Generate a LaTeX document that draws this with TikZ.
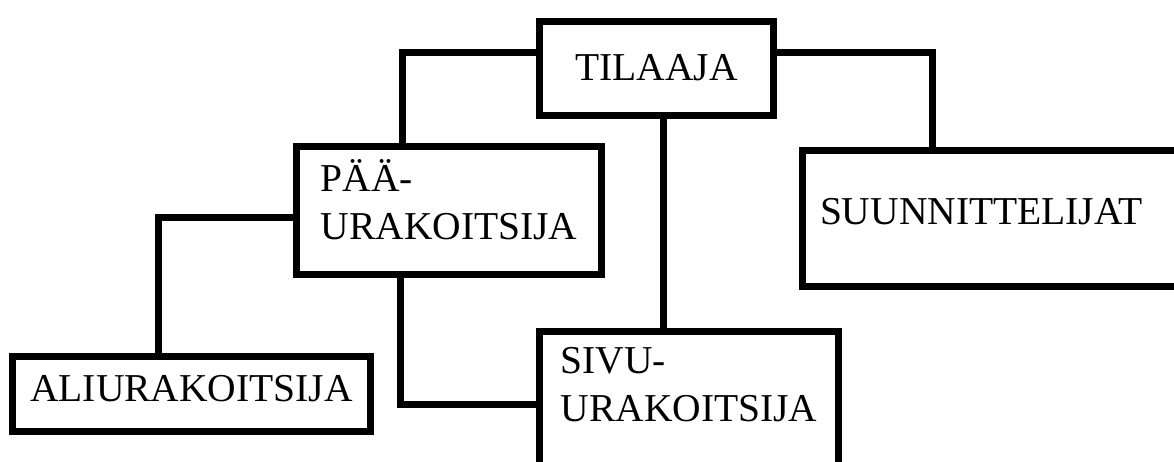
\documentclass[tikz,border=0pt]{standalone}
\usepackage{fontspec}
\setmainfont{Liberation Serif}
\usetikzlibrary{positioning, calc}

\begin{document}
\begin{tikzpicture}[
    x=1pt, y=1pt,
    every node/.style={font=\fontsize{39.5}{48}\selectfont},
    box/.style={draw, rectangle, line width=7pt, inner sep=0pt, outer sep=0pt, text height=26pt},
    conn/.style={line width=7pt}
]
    \useasboundingbox (0,0) rectangle (1174,462);
    \clip (0,0) rectangle (1174,462);

    \node[box, minimum width=234pt, minimum height=94pt, text depth=1pt] (tilaaja) at (656.5,393.5) {TILAAJA};
    \node[box, minimum width=305pt, minimum height=128pt, align=left, text height=60pt, text depth=1pt] (paa) at (449,251.5) {PÄÄ-\\URAKOITSIJA};
    \node[box, minimum width=382.5pt, minimum height=136pt, inner xsep=17.5pt, text width=347.5pt, align=left, text depth=13pt] (suun) at (993.75,243.5) {SUUNNITTELIJAT};
    \node[box, minimum width=358pt, minimum height=75pt, text depth=10pt] (aliur) at (191.5,68) {ALIURAKOITSIJA};
    \node[box, anchor=north, minimum width=299pt, minimum height=170pt, align=left, text height=60pt, text depth=49pt] (sivu) at (689,130.5) {SIVU-\\URAKOITSIJA};

    % tilaaja down to the three parties
    \draw[conn] (tilaaja.west |- 0,409) -| (paa.north -| 402,0);
    \draw[conn] (tilaaja.east |- 0,409) -| (suun.north -| 932,0);
    \draw[conn] (tilaaja.south -| 663,0) -- (sivu.north -| 663,0);

    % paa to its subcontractors
    \draw[conn] (paa.west |- 0,244) -| (aliur.north -| 158,0);
    \draw[conn] (paa.south -| 400,0) |- (sivu.west |- 0,57);
\end{tikzpicture}
\end{document}
